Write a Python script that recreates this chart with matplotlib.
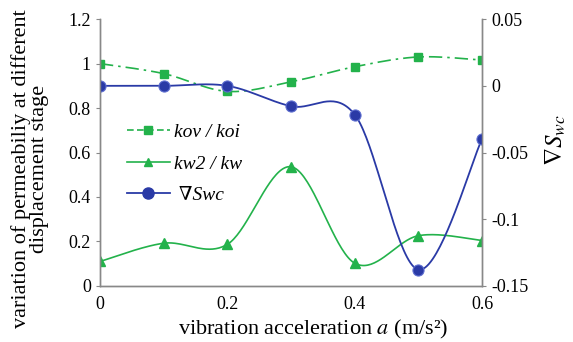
import matplotlib
matplotlib.use("Agg")
import matplotlib.pyplot as plt
import numpy as np
from matplotlib.lines import Line2D
from matplotlib.font_manager import FontProperties

# values
accel = [0.0, 0.1, 0.2, 0.3, 0.4, 0.5, 0.6]
kov_koi = [1.0, 0.955, 0.875, 0.918, 0.986, 1.03, 1.016]
kw2_kw = [0.11, 0.192, 0.187, 0.536, 0.102, 0.226, 0.204]
d_swc = [0.0, 0.0, 0.0, -0.0153, -0.0216, -0.1378, -0.0396]

left_ticks = [0, 0.2, 0.4, 0.6, 0.8, 1, 1.2]
right_ticks = [0.05, 0, -0.05, -0.1, -0.15]
x_ticks = [0, 0.2, 0.4, 0.6]

GREEN = "#23b24b"
BLUE = "#2a3aa6"
SERIF = ["Liberation Serif", "DejaVu Serif"]

plt.rcParams["font.family"] = SERIF
plt.rcParams["mathtext.fontset"] = "stix"


def smooth(xs, ys, n=40):
    """Excel-style smoothed line: Bezier segments with Catmull-Rom controls."""
    p = np.column_stack([xs, ys]).astype(float)
    out = []
    for i in range(len(p) - 1):
        p0 = p[i - 1] if i > 0 else p[i]
        p1, p2 = p[i], p[i + 1]
        p3 = p[i + 2] if i + 2 < len(p) else p[i + 1]
        c1 = p1 + (p2 - p0) / 6
        c2 = p2 - (p3 - p1) / 6
        t = np.linspace(0, 1, n)[:, None]
        seg = (1 - t) ** 3 * p1 + 3 * (1 - t) ** 2 * t * c1 + 3 * (1 - t) * t ** 2 * c2 + t ** 3 * p2
        out.append(seg if i == 0 else seg[1:])
    s = np.vstack(out)
    return s[:, 0], s[:, 1]


fig = plt.figure(figsize=(5.73, 3.42), dpi=100)
ax = fig.add_axes([0.1745, 0.164, 0.667, 0.78])
ax2 = ax.twinx()

sx, sy = smooth(accel, kov_koi)
ax.plot(sx, sy, color=GREEN, lw=1.2, ls=(0, (8, 3, 1.5, 3)))
ax.plot(accel, kov_koi, ls="none", marker="s", ms=6, color=GREEN)

sx, sy = smooth(accel, kw2_kw)
ax.plot(sx, sy, color=GREEN, lw=1.2)
ax.plot(accel, kw2_kw, ls="none", marker="^", ms=7, color=GREEN)

sx, sy = smooth(accel, d_swc)
ax2.plot(sx, sy, color=BLUE, lw=1.3)
ax2.plot(accel, d_swc, ls="none", marker="o", ms=8, color=BLUE, mec="#5f6fd0", mew=0.8)

ax.set_xlim(0, 0.6)
ax.set_ylim(0, 1.2)
ax2.set_ylim(-0.15, 0.05)
ax.set_xticks(x_ticks)
ax.set_xticklabels(["0", "0.2", "0.4", "0.6"], fontfamily=SERIF)
ax.set_yticks(left_ticks)
ax.set_yticklabels(["0", "0.2", "0.4", "0.6", "0.8", "1", "1.2"], fontfamily=SERIF)
ax2.set_yticks(right_ticks)
ax2.set_yticklabels(["0.05", "0", "-0.05", "-0.1", "-0.15"], fontfamily=SERIF)

for a in (ax, ax2):
    a.spines["top"].set_visible(False)
    for s in a.spines.values():
        s.set_color("#888888")
        s.set_linewidth(1.0)
    a.tick_params(colors="#888888", labelcolor="black", labelsize=13, length=3)
ax.tick_params(axis="x", length=0, pad=7)

fig.text(0.546, 0.038, "vibration acceleration $a$ (m/s²)", fontsize=16,
         ha="center", va="center")
fig.text(0.052, 0.506, "variation of permeabiliy at different\ndisplacement stage",
         fontsize=16, rotation=90, ha="center", va="center", ma="center",
         linespacing=0.92)
fig.text(0.97, 0.59, r"$\nabla S_{wc}$", fontsize=18, rotation=90,
         ha="center", va="center")

handles = [
    Line2D([], [], color=GREEN, lw=1.2, ls=(0, (4, 2)), marker="s", ms=6),
    Line2D([], [], color=GREEN, lw=1.2, marker="^", ms=6),
    Line2D([], [], color=BLUE, lw=1.3, marker="o", ms=8),
]
labels = ["kov / koi", "kw2 / kw", " ∇Swc"]
leg = ax.legend(handles, labels, loc="upper left", bbox_to_anchor=(0.025, 0.675),
                frameon=False, prop=FontProperties(family=SERIF, style="italic", size=14),
                handlelength=2.2, handletextpad=0.2, labelspacing=0.72)

fig.savefig("out.png", dpi=100)
